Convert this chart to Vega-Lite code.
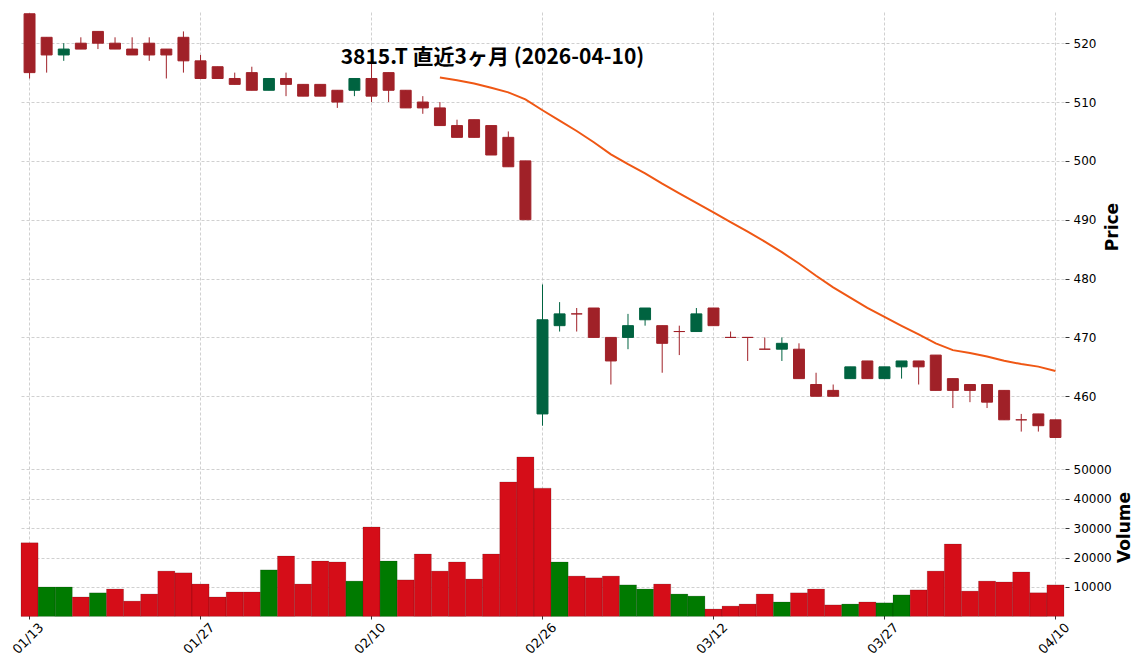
{
  "$schema": "https://vega.github.io/schema/vega-lite/v6.json",
  "background": "white",
  "padding": {"left": 10, "top": 12, "right": 5, "bottom": 5},
  "config": {
    "view": {"stroke": null},
    "font": "DejaVu Sans",
    "axis": {
      "labelFont": "DejaVu Sans", "labelFontSize": 12, "labelColor": "#000",
      "titleFont": "DejaVu Sans", "titleFontSize": 17, "titleFontWeight": "bold", "titleColor": "#000",
      "gridColor": "#c4c4c4", "gridDash": [3, 2], "gridWidth": 0.8,
      "domain": false, "tickColor": "#333", "tickSize": 4
    }
  },
  "resolve": {"scale": {"color": "independent", "stroke": "independent"}},
  "data": {"values": [
    {"d": "01/13", "o": 525, "h": 525, "l": 514, "c": 515, "cd": "down", "v": 25000, "vd": "down", "ma": null},
    {"d": "01/14", "o": 521, "h": 521, "l": 515, "c": 518, "cd": "down", "v": 10000, "vd": "up", "ma": null},
    {"d": "01/15", "o": 518, "h": 520, "l": 517, "c": 519, "cd": "up", "v": 10000, "vd": "up", "ma": null},
    {"d": "01/16", "o": 520, "h": 521, "l": 519, "c": 519, "cd": "down", "v": 6600, "vd": "down", "ma": null},
    {"d": "01/19", "o": 522, "h": 522, "l": 519, "c": 520, "cd": "down", "v": 8000, "vd": "up", "ma": null},
    {"d": "01/20", "o": 520, "h": 521, "l": 519, "c": 519, "cd": "down", "v": 9300, "vd": "down", "ma": null},
    {"d": "01/21", "o": 519, "h": 521, "l": 518, "c": 518, "cd": "down", "v": 5200, "vd": "down", "ma": null},
    {"d": "01/22", "o": 520, "h": 521, "l": 517, "c": 518, "cd": "down", "v": 7600, "vd": "down", "ma": null},
    {"d": "01/23", "o": 519, "h": 519, "l": 514, "c": 518, "cd": "down", "v": 15400, "vd": "down", "ma": null},
    {"d": "01/26", "o": 521, "h": 522, "l": 515, "c": 517, "cd": "down", "v": 14800, "vd": "down", "ma": null},
    {"d": "01/27", "o": 517, "h": 518, "l": 514, "c": 514, "cd": "down", "v": 11000, "vd": "down", "ma": null},
    {"d": "01/28", "o": 516, "h": 516, "l": 514, "c": 514, "cd": "down", "v": 6600, "vd": "down", "ma": null},
    {"d": "01/29", "o": 514, "h": 515, "l": 513, "c": 513, "cd": "down", "v": 8300, "vd": "down", "ma": null},
    {"d": "01/30", "o": 515, "h": 516, "l": 512, "c": 512, "cd": "down", "v": 8300, "vd": "down", "ma": null},
    {"d": "02/02", "o": 512, "h": 514, "l": 512, "c": 514, "cd": "up", "v": 15800, "vd": "up", "ma": null},
    {"d": "02/03", "o": 514, "h": 515, "l": 511, "c": 513, "cd": "down", "v": 20500, "vd": "down", "ma": null},
    {"d": "02/04", "o": 513, "h": 513, "l": 511, "c": 511, "cd": "down", "v": 11000, "vd": "down", "ma": null},
    {"d": "02/05", "o": 513, "h": 513, "l": 511, "c": 511, "cd": "down", "v": 18800, "vd": "down", "ma": null},
    {"d": "02/06", "o": 512, "h": 512, "l": 509, "c": 510, "cd": "down", "v": 18500, "vd": "down", "ma": null},
    {"d": "02/09", "o": 512, "h": 514, "l": 511, "c": 514, "cd": "up", "v": 12000, "vd": "up", "ma": null},
    {"d": "02/10", "o": 514, "h": 519, "l": 510, "c": 511, "cd": "down", "v": 30400, "vd": "down", "ma": null},
    {"d": "02/12", "o": 515, "h": 515, "l": 510, "c": 512, "cd": "down", "v": 18800, "vd": "up", "ma": null},
    {"d": "02/13", "o": 512, "h": 512, "l": 509, "c": 509, "cd": "down", "v": 12400, "vd": "down", "ma": null},
    {"d": "02/16", "o": 510, "h": 511, "l": 508, "c": 509, "cd": "down", "v": 21200, "vd": "down", "ma": null},
    {"d": "02/17", "o": 509, "h": 510, "l": 506, "c": 506, "cd": "down", "v": 15400, "vd": "down", "ma": 514.16},
    {"d": "02/18", "o": 506, "h": 507, "l": 504, "c": 504, "cd": "down", "v": 18500, "vd": "down", "ma": 513.72},
    {"d": "02/19", "o": 507, "h": 507, "l": 504, "c": 504, "cd": "down", "v": 12700, "vd": "down", "ma": 513.16},
    {"d": "02/20", "o": 506, "h": 506, "l": 501, "c": 501, "cd": "down", "v": 21200, "vd": "down", "ma": 512.44},
    {"d": "02/24", "o": 504, "h": 505, "l": 499, "c": 499, "cd": "down", "v": 45700, "vd": "down", "ma": 511.64},
    {"d": "02/25", "o": 500, "h": 500, "l": 490, "c": 490, "cd": "down", "v": 54200, "vd": "down", "ma": 510.44},
    {"d": "02/26", "o": 457, "h": 479, "l": 455, "c": 473, "cd": "up", "v": 43600, "vd": "down", "ma": 508.6},
    {"d": "02/27", "o": 472, "h": 476, "l": 471, "c": 474, "cd": "up", "v": 18500, "vd": "up", "ma": 506.84},
    {"d": "03/02", "o": 474, "h": 475, "l": 471, "c": 474, "cd": "down", "v": 13700, "vd": "down", "ma": 505.08},
    {"d": "03/03", "o": 475, "h": 475, "l": 470, "c": 470, "cd": "down", "v": 13100, "vd": "down", "ma": 503.16},
    {"d": "03/04", "o": 470, "h": 470, "l": 462, "c": 466, "cd": "down", "v": 13700, "vd": "down", "ma": 501.12},
    {"d": "03/05", "o": 470, "h": 474, "l": 468, "c": 472, "cd": "up", "v": 10700, "vd": "up", "ma": 499.44},
    {"d": "03/06", "o": 473, "h": 475, "l": 472, "c": 475, "cd": "up", "v": 9300, "vd": "up", "ma": 497.88},
    {"d": "03/09", "o": 472, "h": 472, "l": 464, "c": 469, "cd": "down", "v": 11000, "vd": "down", "ma": 496.12},
    {"d": "03/10", "o": 471, "h": 472, "l": 467, "c": 471, "cd": "down", "v": 7600, "vd": "up", "ma": 494.48},
    {"d": "03/11", "o": 471, "h": 475, "l": 471, "c": 474, "cd": "up", "v": 6900, "vd": "up", "ma": 492.88},
    {"d": "03/12", "o": 475, "h": 475, "l": 472, "c": 472, "cd": "down", "v": 2500, "vd": "down", "ma": 491.24},
    {"d": "03/13", "o": 470, "h": 471, "l": 470, "c": 470, "cd": "down", "v": 3500, "vd": "down", "ma": 489.6},
    {"d": "03/16", "o": 470, "h": 470, "l": 466, "c": 470, "cd": "down", "v": 4200, "vd": "down", "ma": 487.96},
    {"d": "03/17", "o": 468, "h": 470, "l": 468, "c": 468, "cd": "down", "v": 7600, "vd": "down", "ma": 486.28},
    {"d": "03/18", "o": 468, "h": 470, "l": 466, "c": 469, "cd": "up", "v": 4900, "vd": "up", "ma": 484.48},
    {"d": "03/19", "o": 468, "h": 469, "l": 463, "c": 463, "cd": "down", "v": 8000, "vd": "down", "ma": 482.56},
    {"d": "03/23", "o": 462, "h": 464, "l": 460, "c": 460, "cd": "down", "v": 9300, "vd": "down", "ma": 480.48},
    {"d": "03/24", "o": 461, "h": 462, "l": 460, "c": 460, "cd": "down", "v": 3900, "vd": "down", "ma": 478.52},
    {"d": "03/25", "o": 463, "h": 465, "l": 463, "c": 465, "cd": "up", "v": 4200, "vd": "up", "ma": 476.76},
    {"d": "03/26", "o": 466, "h": 466, "l": 463, "c": 463, "cd": "down", "v": 4900, "vd": "down", "ma": 475.04},
    {"d": "03/27", "o": 463, "h": 465, "l": 463, "c": 465, "cd": "up", "v": 4600, "vd": "up", "ma": 473.48},
    {"d": "03/30", "o": 465, "h": 466, "l": 463, "c": 466, "cd": "up", "v": 7300, "vd": "up", "ma": 471.96},
    {"d": "03/31", "o": 466, "h": 466, "l": 462, "c": 465, "cd": "down", "v": 9000, "vd": "down", "ma": 470.52},
    {"d": "04/01", "o": 467, "h": 467, "l": 461, "c": 461, "cd": "down", "v": 15400, "vd": "down", "ma": 469.0},
    {"d": "04/02", "o": 463, "h": 463, "l": 458, "c": 461, "cd": "down", "v": 24600, "vd": "down", "ma": 467.84},
    {"d": "04/03", "o": 462, "h": 462, "l": 459, "c": 461, "cd": "down", "v": 8600, "vd": "down", "ma": 467.36},
    {"d": "04/06", "o": 462, "h": 462, "l": 458, "c": 459, "cd": "down", "v": 12000, "vd": "down", "ma": 466.76},
    {"d": "04/07", "o": 461, "h": 461, "l": 456, "c": 456, "cd": "down", "v": 11700, "vd": "down", "ma": 466.04},
    {"d": "04/08", "o": 456, "h": 457, "l": 454, "c": 456, "cd": "down", "v": 15100, "vd": "down", "ma": 465.48},
    {"d": "04/09", "o": 457, "h": 457, "l": 454, "c": 455, "cd": "down", "v": 8000, "vd": "down", "ma": 465.04},
    {"d": "04/10", "o": 456, "h": 456, "l": 453, "c": 453, "cd": "down", "v": 10700, "vd": "down", "ma": 464.28}
  ]},
  "spacing": 0,
  "vconcat": [
    {
      "width": 1043,
      "height": 429,
      "title": {
        "text": "3815.T  直近3ヶ月  (2026-04-10)",
        "font": "Noto Sans CJK JP", "fontSize": 21, "fontWeight": "bold", "color": "#000",
        "anchor": "middle", "frame": "group", "dx": -50, "offset": -56
      },
      "layer": [
        {
          "mark": {"type": "rule", "strokeWidth": 1},
          "encoding": {
            "x": {"field": "d", "type": "ordinal", "scale": {"type": "band", "paddingInner": 0, "paddingOuter": 0},
                  "axis": {"values": ["01/13", "01/27", "02/10", "02/26", "03/12", "03/27", "04/10"], "labels": false, "ticks": false, "domain": false, "grid": true, "bandPosition": 0.5, "title": null}},
            "y": {"field": "l", "type": "quantitative", "scale": {"domain": [452.4, 525.3], "zero": false, "nice": false},
                  "axis": {"orient": "right", "values": [460, 470, 480, 490, 500, 510, 520], "title": "Price", "titleAngle": 270, "titleBaseline": "top", "titlePadding": 9, "labelPadding": 4, "offset": 1, "grid": true}},
            "y2": {"field": "h"},
            "color": {"field": "cd", "type": "nominal", "scale": {"domain": ["up", "down"], "range": ["#006340", "#a02128"]}, "legend": null}
          }
        },
        {
          "mark": {"type": "bar", "width": {"band": 0.64}, "strokeWidth": 1},
          "encoding": {
            "x": {"field": "d", "type": "ordinal"},
            "y": {"field": "o", "type": "quantitative"},
            "y2": {"field": "c"},
            "color": {"field": "cd", "type": "nominal", "legend": null},
            "stroke": {"field": "cd", "type": "nominal", "scale": {"domain": ["up", "down"], "range": ["#006340", "#a02128"]}, "legend": null}
          }
        },
        {
          "transform": [{"filter": "datum.ma != null"}],
          "mark": {"type": "line", "color": "#ef5714", "strokeWidth": 2},
          "encoding": {
            "x": {"field": "d", "type": "ordinal"},
            "y": {"field": "ma", "type": "quantitative"}
          }
        }
      ]
    },
    {
      "width": 1043,
      "height": 172,
      "mark": {"type": "bar", "stroke": "#000", "strokeOpacity": 0.15, "strokeWidth": 1},
      "encoding": {
        "x": {"field": "d", "type": "ordinal", "scale": {"type": "band", "paddingInner": 0, "paddingOuter": 0},
              "axis": {"values": ["01/13", "01/27", "02/10", "02/26", "03/12", "03/27", "04/10"], "labelAngle": -45, "labelAlign": "right", "labelBaseline": "middle", "labelOffset": 12, "labelPadding": 6, "labelFontSize": 13, "ticks": true, "offset": 2, "domain": false, "grid": true, "bandPosition": 0.5, "title": null}},
        "y": {"field": "v", "type": "quantitative", "scale": {"domain": [1155, 59620], "zero": false, "nice": false},
              "axis": {"orient": "right", "values": [10000, 20000, 30000, 40000, 50000], "format": "d", "title": "Volume", "titleAngle": 270, "titleBaseline": "top", "titlePadding": 5, "labelPadding": 4, "offset": 1, "grid": true}},
        "color": {"field": "vd", "type": "nominal", "scale": {"domain": ["up", "down"], "range": ["#007a00", "#d50d18"]}, "legend": null}
      }
    }
  ]
}
